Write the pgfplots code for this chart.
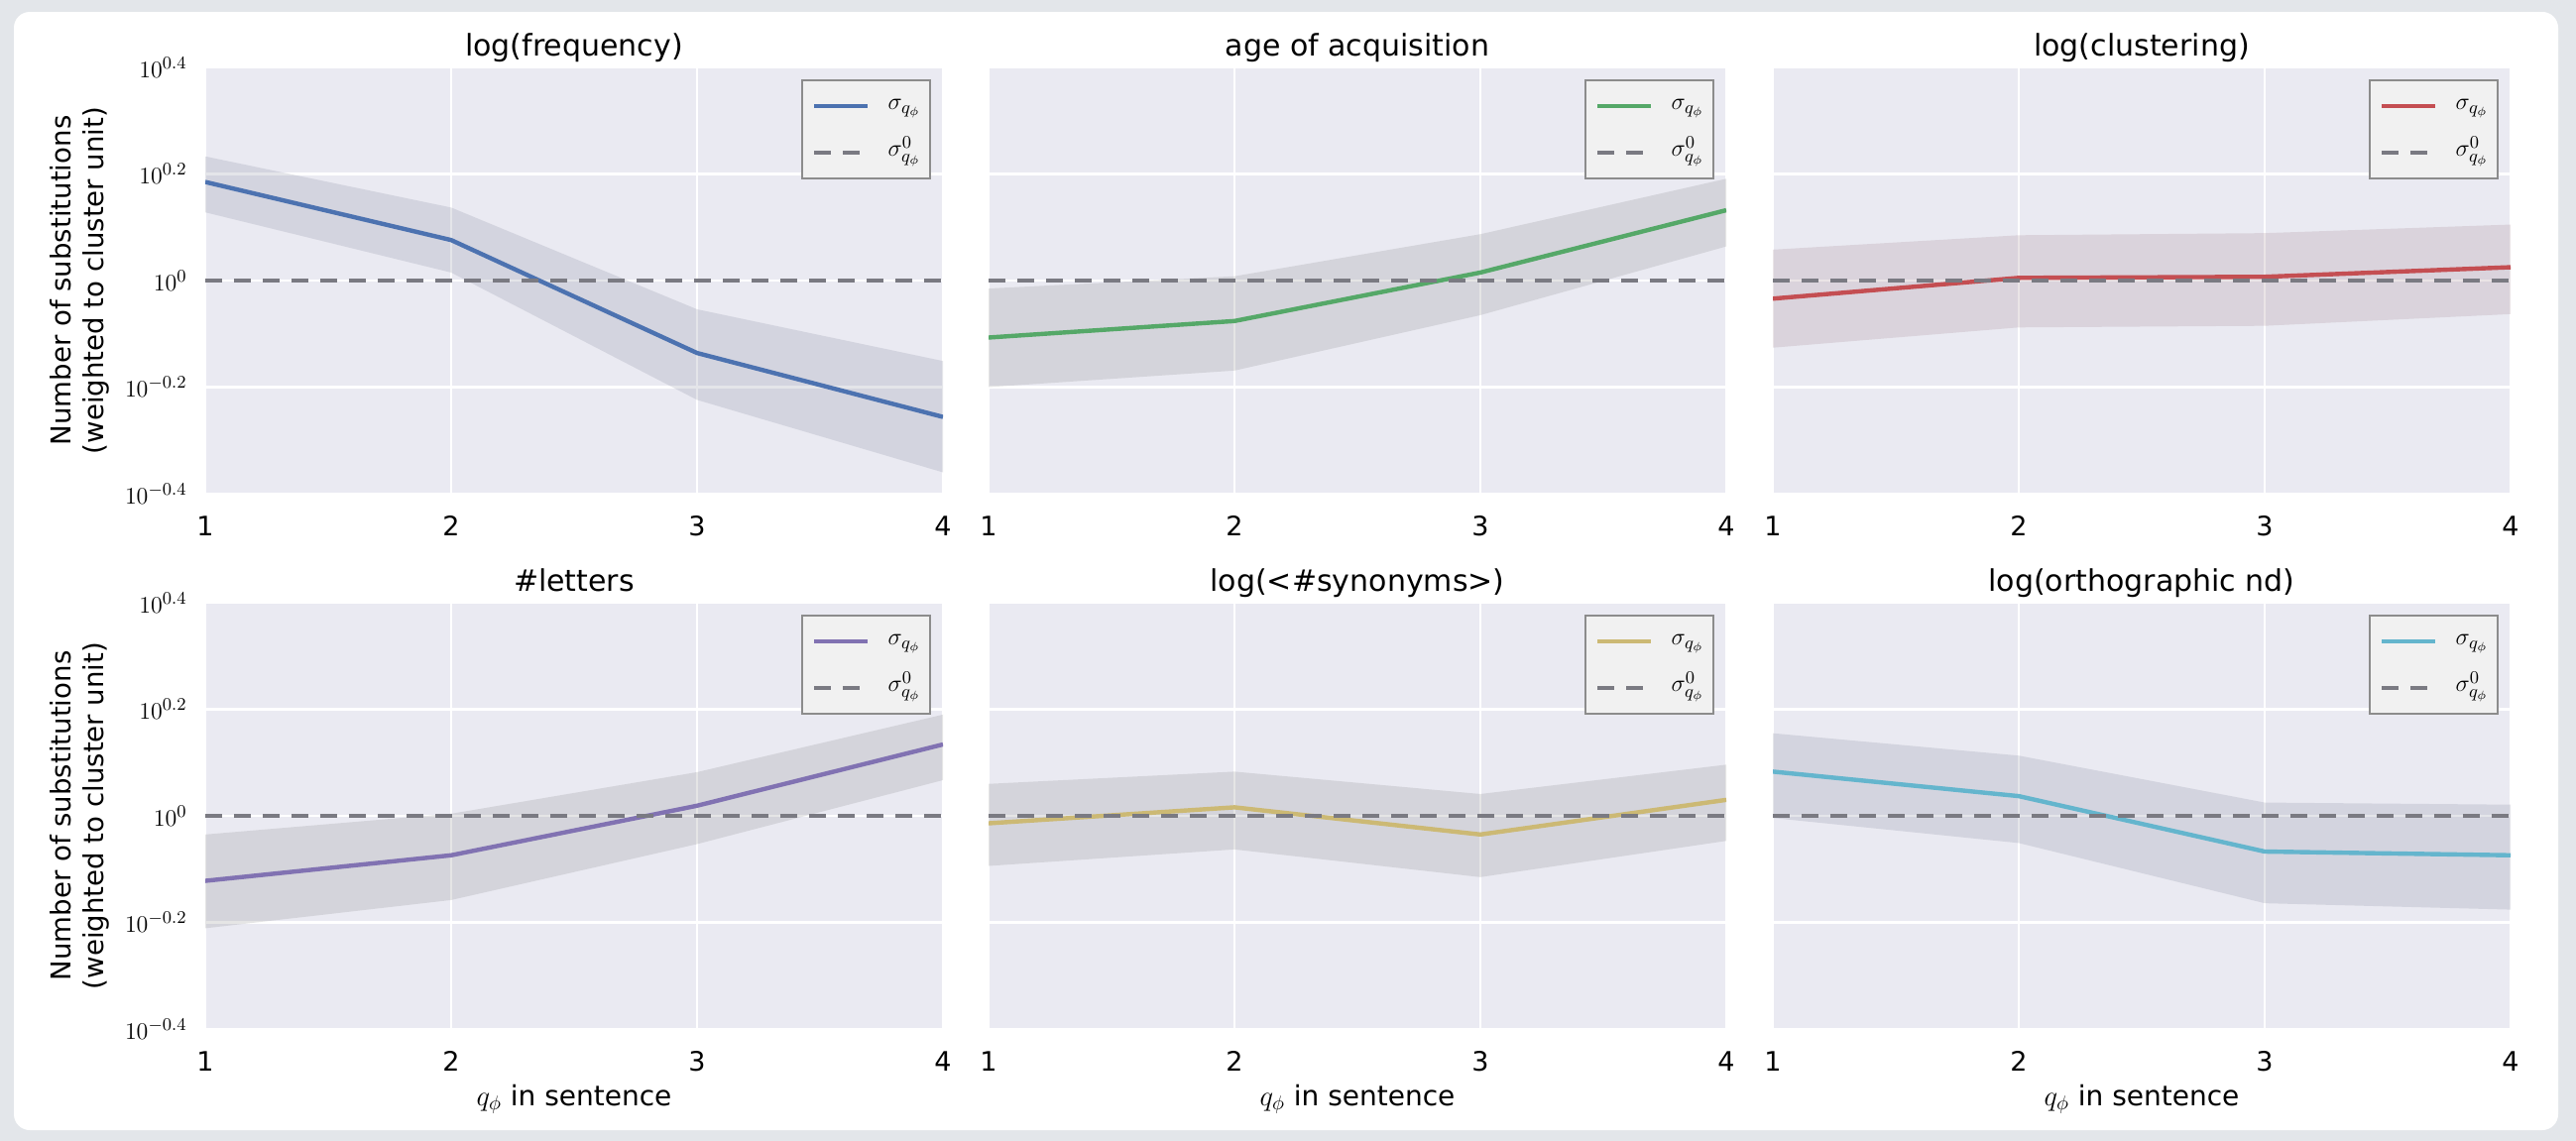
\documentclass[border=0pt]{standalone}
\usepackage{pgfplots}
\usepackage{pgfplotstable}
\pgfplotsset{compat=1.18}
\usepackage{fontspec}
\setmainfont{DejaVu Sans}
\definecolor{bgc}{HTML}{EAEAF2}
\definecolor{outer}{HTML}{E3E6EA}
\definecolor{cblue}{HTML}{4C72B0}
\definecolor{cgreen}{HTML}{55A868}
\definecolor{cred}{HTML}{C44E52}
\definecolor{cpurple}{HTML}{8172B2}
\definecolor{cyellow}{HTML}{CCB974}
\definecolor{ccyan}{HTML}{64B5CD}
\definecolor{dashc}{HTML}{7A7A82}
\definecolor{legbg}{HTML}{F1F1F1}
\definecolor{legdraw}{HTML}{8C8C8C}
\definecolor{bandg}{HTML}{808080}
\definecolor{bandb}{HTML}{7A7F95}
\definecolor{bandr}{HTML}{9A7A85}

% mean curves
\pgfplotstableread{
x m
1 0.185
2 0.076
3 -0.136
4 -0.256
}\tfreq
\pgfplotstableread{
x m
1 -0.107
2 -0.076
3 0.015
4 0.132
}\tage
\pgfplotstableread{
x m
1 -0.034
2 0.005
3 0.007
4 0.025
}\tclust
\pgfplotstableread{
x m
1 -0.122
2 -0.074
3 0.019
4 0.134
}\tlett
\pgfplotstableread{
x m
1 -0.014
2 0.016
3 -0.035
4 0.030
}\tsyn
\pgfplotstableread{
x m
1 0.083
2 0.037
3 -0.067
4 -0.074
}\tortho

% confidence bands: upper bound forward, lower bound backward
\pgfplotstableread{
x b
1 0.233
2 0.137
3 -0.054
4 -0.151
4 -0.360
3 -0.224
2 0.015
1 0.128
}\bfreq
\pgfplotstableread{
x b
1 -0.015
2 0.008
3 0.087
4 0.191
4 0.064
3 -0.065
2 -0.169
1 -0.200
}\bage
\pgfplotstableread{
x b
1 0.058
2 0.085
3 0.089
4 0.105
4 -0.063
3 -0.085
2 -0.088
1 -0.126
}\bclust
\pgfplotstableread{
x b
1 -0.035
2 0.004
3 0.082
4 0.190
4 0.067
3 -0.053
2 -0.158
1 -0.211
}\blett
\pgfplotstableread{
x b
1 0.060
2 0.083
3 0.041
4 0.096
4 -0.047
3 -0.115
2 -0.063
1 -0.094
}\bsyn
\pgfplotstableread{
x b
1 0.155
2 0.113
3 0.025
4 0.021
4 -0.176
3 -0.164
2 -0.051
1 -0.004
}\bortho

\pgfplotsset{
  panel/.style={
    width=372pt, height=215pt, scale only axis,
    xmin=1, xmax=4, ymin=-0.4, ymax=0.4,
    xtick={1,2,3,4}, xticklabels={1,2,3,4},
    ytick={-0.4,-0.2,0,0.2,0.4},
    axis background/.style={fill=bgc},
    axis line style={draw=none},
    major tick length=0pt,
    grid=major, grid style={white, line width=1.2pt},
    xticklabel style={font=\fontsize{13.5}{15}\selectfont, yshift=-7.7pt},
    title style={font=\fontsize{15}{18}\selectfont, at={(0.5,1)}, anchor=base, yshift=0pt},
    legend entries={$\sigma_{q_\phi}$,$\sigma^{0}_{q_\phi}$},
    legend style={at={(1,1)}, anchor=north east, xshift=-6pt, yshift=-6pt,
      fill=legbg, draw=legdraw, line width=0.8pt,
      font=\fontsize{13}{15}\selectfont, inner xsep=5pt, inner ysep=6pt,
      row sep=9.5pt, nodes={inner sep=0pt, text height=9pt, text depth=5pt},
      cells={anchor=west},
      /tikz/every odd column/.style={column sep=9pt}},
    legend image code/.code={\draw[#1] (0pt,0pt) -- (27pt,0pt);},
  },
  withy/.style={
    yticklabels={$10^{-0.4}$,$10^{-0.2}$,$10^{0}$,$10^{0.2}$,$10^{0.4}$},
    yticklabel style={font=\fontsize{13}{15}\selectfont, xshift=-5.7pt},
    ylabel={Number of substitutions\\(weighted to cluster unit)},
    ylabel style={align=center, font=\fontsize{13.8}{16.5}\selectfont,
      at={(axis description cs:-0.1707,0.5)}, anchor=center},
  },
  withouty/.style={yticklabels={}},
  withx/.style={
    xlabel={$q_\phi$ in sentence},
    xlabel style={font=\fontsize{14}{16}\selectfont, at={(axis description cs:0.5,0)}, anchor=center, yshift=-35.5pt},
  },
}

\newcommand{\drawpanel}[4]{%
  \addplot[fill=#4, fill opacity=0.2, draw=none, forget plot] table[x=x,y=b]{#2} -- cycle;
  \addplot[#3, line width=2.2pt] table[x=x,y=m]{#1};
  \addplot[dashc, line width=2.2pt, dash pattern=on 8.5pt off 6pt] coordinates {(1,0) (4,0)};
}

\begin{document}
\begin{tikzpicture}
\fill[outer] (0,0) rectangle (1299pt,-575.5pt);
\fill[white, rounded corners=8pt] (7pt,-6pt) rectangle (1290pt,-570pt);

\begin{axis}[panel, withy, at={(103.5pt,-34pt)}, anchor=north west, title={log(frequency)}]
\drawpanel{\tfreq}{\bfreq}{cblue}{bandb}
\end{axis}
\begin{axis}[panel, withouty, at={(498.5pt,-34pt)}, anchor=north west, title={age of acquisition}]
\drawpanel{\tage}{\bage}{cgreen}{bandg}
\end{axis}
\begin{axis}[panel, withouty, at={(894pt,-34pt)}, anchor=north west, title={log(clustering)}]
\drawpanel{\tclust}{\bclust}{cred}{bandr}
\end{axis}

\begin{axis}[panel, withy, withx, at={(103.5pt,-304pt)}, anchor=north west, title={\#letters}]
\drawpanel{\tlett}{\blett}{cpurple}{bandg}
\end{axis}
\begin{axis}[panel, withouty, withx, at={(498.5pt,-304pt)}, anchor=north west, title={log(<\#synonyms>)}]
\drawpanel{\tsyn}{\bsyn}{cyellow}{bandg}
\end{axis}
\begin{axis}[panel, withouty, withx, at={(894pt,-304pt)}, anchor=north west, title={log(orthographic nd)}]
\drawpanel{\tortho}{\bortho}{ccyan}{bandb}
\end{axis}

\pgfresetboundingbox
\useasboundingbox (0,0) rectangle (1299pt,-575.5pt);
\end{tikzpicture}
\end{document}
